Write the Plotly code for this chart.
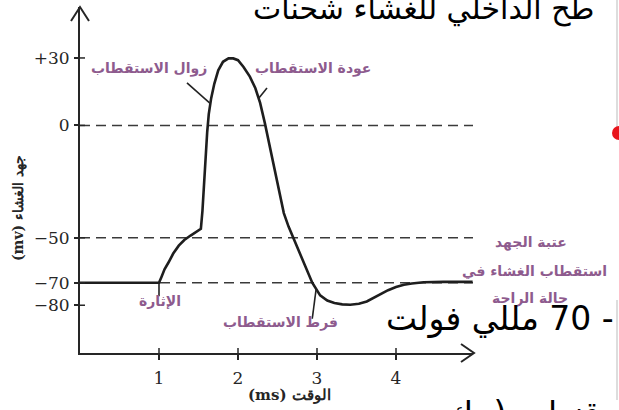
import plotly.graph_objects as go

# membrane potential trace
time_ms = [0.0, 1.0, 1.03, 1.07, 1.12, 1.18, 1.25, 1.32, 1.4, 1.47, 1.53, 1.55, 1.57, 1.59,
           1.61, 1.63, 1.66, 1.7, 1.75, 1.81, 1.88, 1.94, 2.0, 2.07, 2.15, 2.22, 2.28, 2.34,
           2.4, 2.46, 2.52, 2.58, 2.64, 2.7, 2.78, 2.86, 2.94, 3.04, 3.13, 3.22, 3.32, 3.42,
           3.53, 3.63, 3.72, 3.8, 3.9, 4.0, 4.1, 4.2, 4.35, 4.6, 4.97]
potential_mv = [-70, -70, -67.5, -64, -61, -57, -53.5, -51, -49, -47.3, -46, -38, -25, -12,
                -3, 5, 12, 18.5, 24.5, 28.3, 29.8, 29.8, 29, 26, 21.7, 16.5, 10, 1,
                -9, -18.5, -29, -39, -45, -50, -56.5, -63.5, -70, -75.6, -77.9, -79, -79.6, -79.8,
                -79.3, -78.3, -76.7, -75, -73.3, -71.9, -70.9, -70.3, -69.8, -69.6, -69.6]

# reference (dashed) levels
ref_levels = [0, -50, -70]

x_ticks = [1, 2, 3, 4]
y_ticks = [30, 0, -50, -70, -80]
y_tick_text = ["+30", "0", "−50", "−70", "−80"]

x_title = "\u202Bالوقت (ms)\u202C"
y_title = "\u202Bجهد الغشاء (mv)\u202C"

# phase labels: text, pixel centre
phase_labels = [
    ("زوال الاستقطاب", 149, 69),
    ("عودة الاستقطاب", 313, 69),
    ("عتبة الجهد", 531, 242),
    ("استقطاب الغشاء في", 534, 271),
    ("حالة الراحة", 530, 298),
    ("الإثارة", 160, 301),
    ("فرط الاستقطاب", 280, 322),
]

# leader lines from labels to the curve (data coords)
leaders = [
    ((1.354, 18.9), (1.64, 10.0)),
    ((2.367, 16.6), (2.26, 12.0)),
    ((2.99, -72.5), (2.94, -86.0)),
    ((1.0, -70.0), (1.0, -76.0)),
]

W_FIG, H_FIG = 619, 410
L, R, T, B = 80, 473, 7, 353
X_RANGE = [0, (R - L) / 79]
MV_PER_PX = 1 / 2.248
Y_RANGE = [(125.4 - B) * MV_PER_PX, (125.4 - T) * MV_PER_PX]

purple = "#8e5b8e"
ink = "#262626"


def fx(px):
    return (px - L) / (R - L)


def fy(py):
    return (B - py) / (B - T)


fig = go.Figure()

# dashed reference lines
for lev in ref_levels:
    fig.add_shape(type="line", xref="x", yref="y", x0=0, x1=X_RANGE[1], y0=lev, y1=lev,
                  line=dict(color="#3a3a3a", width=1.5, dash="10px,6px"), layer="below")

fig.add_trace(go.Scatter(
    x=time_ms, y=potential_mv, mode="lines",
    line=dict(color="#1e1e1e", width=2.6), hoverinfo="skip", showlegend=False,
))

# inner half of the tick marks (ticks cross the axes)
for t in x_ticks:
    fig.add_shape(type="line", xref="x", yref="paper", x0=t, x1=t, y0=0, y1=fy(B - 5),
                  line=dict(color=ink, width=1.5))
for v in y_ticks:
    fig.add_shape(type="line", xref="paper", yref="y", x0=0, x1=fx(L + 5), y0=v, y1=v,
                  line=dict(color=ink, width=1.5))

# leader lines
for (x0, y0), (x1, y1) in leaders:
    fig.add_shape(type="line", xref="x", yref="y", x0=x0, y0=y0, x1=x1, y1=y1,
                  line=dict(color="#222", width=1.6))

# axis arrow heads (open chevrons)
fig.add_shape(type="path", xref="paper", yref="paper",
              path=f"M {fx(71)},{fy(21)} L {fx(L)},{fy(T)} L {fx(89)},{fy(21)}",
              line=dict(color=ink, width=2))
fig.add_shape(type="path", xref="paper", yref="paper",
              path=f"M {fx(461)},{fy(344)} L {fx(R + 1)},{fy(B)} L {fx(461)},{fy(362)}",
              line=dict(color=ink, width=2))

for text, px, py in phase_labels:
    fig.add_annotation(text=text, xref="paper", yref="paper", x=fx(px), y=fy(py),
                       showarrow=False, xanchor="center", yanchor="middle",
                       font=dict(family="DejaVu Sans", size=14, color=purple, weight="bold"))

# axis titles
fig.add_annotation(text=x_title, xref="paper", yref="paper", x=fx(289), y=fy(395),
                   showarrow=False, xanchor="center", yanchor="middle",
                   font=dict(family="DejaVu Serif", size=15, color=ink, weight="bold"))
fig.add_annotation(text=y_title, xref="paper", yref="paper", x=fx(18), y=fy(208),
                   showarrow=False, textangle=-90, xanchor="center", yanchor="middle",
                   font=dict(family="DejaVu Serif", size=14, color=ink, weight="bold"))

# slide text overlapping the picture
big = dict(family="DejaVu Sans", size=33, color="black")
fig.add_annotation(text="طح الداخلي للغشاء شحنات", xref="paper", yref="paper",
                   x=fx(596), y=fy(9), showarrow=False, xanchor="right", yanchor="middle",
                   font=dict(family="DejaVu Sans", size=30, color="black"))
fig.add_annotation(text="\u202B- 70 مللي فولت\u202C", xref="paper", yref="paper",
                   x=fx(616), y=fy(318), showarrow=False, xanchor="right", yanchor="middle",
                   font=big)
fig.add_annotation(text="قنوات ( بك", xref="paper", yref="paper",
                   x=fx(602), y=fy(413), showarrow=False, xanchor="right", yanchor="middle",
                   font=big)

# slide edge and red marker at the right border
fig.add_shape(type="line", xref="paper", yref="paper", x0=fx(617), x1=fx(617),
              y0=fy(0), y1=fy(128), line=dict(color="#dddddd", width=2))
fig.add_shape(type="line", xref="paper", yref="paper", x0=fx(617), x1=fx(617),
              y0=fy(300), y1=fy(400), line=dict(color="#dddddd", width=2))
fig.add_shape(type="circle", xref="paper", yref="paper", x0=fx(612), x1=fx(626),
              y0=fy(140), y1=fy(126), fillcolor="#e8141b", line=dict(width=0))

fig.update_layout(
    width=W_FIG, height=H_FIG,
    margin=dict(l=L, r=W_FIG - R, t=T, b=H_FIG - B, autoexpand=False),
    paper_bgcolor="white", plot_bgcolor="white",
    showlegend=False,
    xaxis=dict(range=X_RANGE, tickvals=x_ticks, showgrid=False, zeroline=False,
               showline=True, linecolor=ink, linewidth=2, ticks="outside", ticklen=5,
               tickwidth=1.5, tickcolor=ink, ticklabelstandoff=4,
               tickfont=dict(family="DejaVu Serif", size=17, color=ink)),
    yaxis=dict(range=Y_RANGE, tickvals=y_ticks, ticktext=y_tick_text, showgrid=False,
               zeroline=False, showline=True, linecolor=ink, linewidth=2, ticks="outside",
               ticklen=4, tickwidth=1.5, tickcolor=ink, ticklabelstandoff=1,
               tickfont=dict(family="DejaVu Serif", size=17, color=ink)),
)

# page body has an 8px default margin; drop it so the figure sits at the corner
fig.write_html("out.html", config={"displayModeBar": False},
               post_script="document.body.style.margin='0';document.body.style.overflow='hidden';")
